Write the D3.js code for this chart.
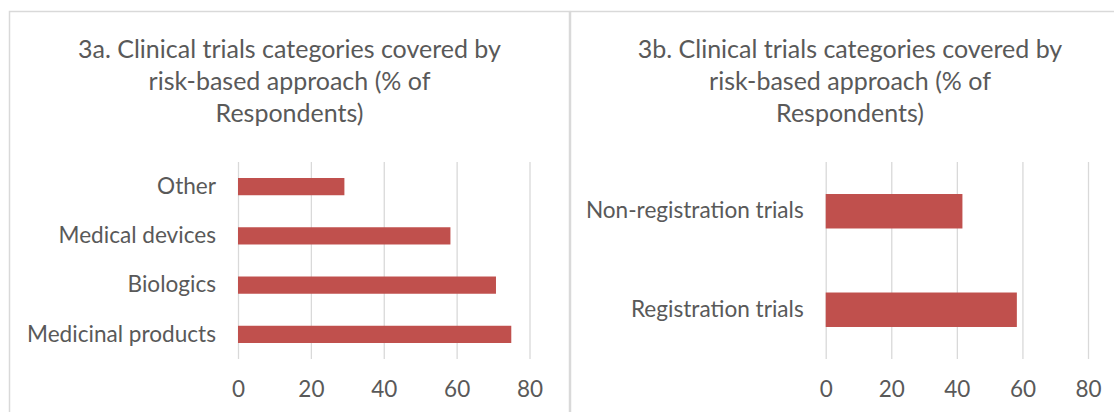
<!DOCTYPE html>
<html>
<head>
<meta charset="utf-8">
<script src="https://cdn.jsdelivr.net/npm/d3@7"></script>
<style>
  html, body { margin: 0; padding: 0; background: #ffffff; }
  svg { display: block; }
  text { font-family: Lato, "Open Sans", sans-serif; fill: #595959; }
</style>
</head>
<body>
<svg id="chart" width="1114" height="412"></svg>
<script>
// Share of respondents (%) per trial category
const categoriesA = ["Other", "Medical devices", "Biologics", "Medicinal products"];
const valuesA = [29.2, 58.3, 70.8, 75.0];

const categoriesB = ["Non-registration trials", "Registration trials"];
const valuesB = [41.7, 58.3];

const xTicks = [0, 20, 40, 60, 80];

const titleA = ["3a. Clinical trials categories covered by", "risk-based approach (% of", "Respondents)"];
const titleB = ["3b. Clinical trials categories covered by", "risk-based approach (% of", "Respondents)"];

const svg = d3.select("#chart");
const barColor = "#c0504d";
const gridColor = "#d9d9d9";

// Panel frames
svg.append("rect").attr("x", 9.5).attr("y", 11.5).attr("width", 560).attr("height", 420)
  .attr("fill", "#fff").attr("stroke", gridColor).attr("stroke-width", 1.5);
svg.append("rect").attr("x", 570.5).attr("y", 11.5).attr("width", 560).attr("height", 420)
  .attr("fill", "#fff").attr("stroke", gridColor).attr("stroke-width", 1.5);

function drawPanel(cfg) {
  const g = svg.append("g");

  // Title
  const t = g.append("text").attr("text-anchor", "middle").style("font-size", "25px");
  cfg.title.forEach((line, i) => {
    t.append("tspan").attr("x", cfg.titleX).attr("y", 58 + i * 32).text(line);
  });

  const x = d3.scaleLinear().domain([0, 80]).range(cfg.xRange);
  const y = d3.scaleBand().domain(cfg.categories).range([162, 359])
    .paddingInner(0.65).paddingOuter(0.325);

  // Vertical gridlines with tick labels underneath
  const xAxis = d3.axisBottom(x).tickValues(xTicks).tickSize(-(359 - 162)).tickPadding(22);
  const ax = g.append("g").attr("transform", "translate(0,359)").call(xAxis);
  ax.select(".domain").remove();
  ax.selectAll(".tick line").attr("stroke", gridColor).attr("stroke-width", 1.3);
  ax.selectAll(".tick text").style("font-size", "22.5px").attr("fill", "#595959");

  // Bars
  g.selectAll("rect.bar").data(cfg.values).join("rect")
    .attr("class", "bar")
    .attr("x", x(0))
    .attr("y", (d, i) => y(cfg.categories[i]))
    .attr("width", d => x(d) - x(0))
    .attr("height", y.bandwidth())
    .attr("fill", barColor);

  // Category labels
  const yAxis = d3.axisLeft(y).tickSize(0).tickPadding(22);
  const ay = g.append("g").attr("transform", `translate(${x(0)},0)`).call(yAxis);
  ay.select(".domain").remove();
  ay.selectAll(".tick text").style("font-size", "22.6px").attr("fill", "#595959");
}

drawPanel({ title: titleA, titleX: 289.5, categories: categoriesA, values: valuesA, xRange: [238, 529.5] });
drawPanel({ title: titleB, titleX: 850, categories: categoriesB, values: valuesB, xRange: [825.7, 1088] });
</script>
</body>
</html>
